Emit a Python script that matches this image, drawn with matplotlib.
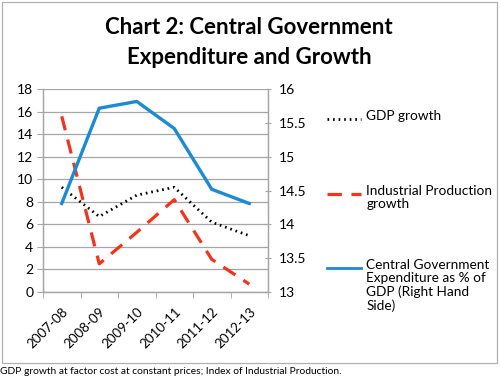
import matplotlib as mpl
mpl.use('agg')
import matplotlib.pyplot as plt
from matplotlib.lines import Line2D
from matplotlib.patches import Rectangle
from matplotlib.transforms import ScaledTranslation

years = ['2007-08', '2008-09', '2009-10', '2010-11', '2011-12', '2012-13']
gdp_growth = [9.3, 6.7, 8.6, 9.3, 6.2, 5.0]
iip_growth = [15.6, 2.5, 5.3, 8.2, 2.9, 0.7]
govt_exp = [14.31, 15.72, 15.82, 15.42, 14.52, 14.31]

FONT = 'Lato'
GRID = '#a6a6a6'
BLUE = '#1b8bd3'
RED = '#f5331a'

fig = plt.figure(figsize=(5.0, 3.78), dpi=100)
plt.rcParams['font.family'] = FONT

# outer frame
fig.add_artist(Rectangle((0.004, 0.04), 0.99, 0.955, transform=fig.transFigure,
                         fill=False, edgecolor='#b0b0b0', lw=0.9))

fig.text(0.498, 0.928, 'Chart 2: Central Government', ha='center', va='center',
         fontsize=16, fontweight='bold')
fig.text(0.498, 0.849, 'Expenditure and Growth', ha='center', va='center',
         fontsize=16, fontweight='bold')

ax = fig.add_axes([0.086, 0.2275, 0.45, 0.5363])
ax2 = ax.twinx()
x = list(range(len(years)))

ax.plot(x, gdp_growth, color='black', lw=2.0, ls=(0, (0.6, 1.4)), zorder=3)
ax.plot(x, iip_growth, color=RED, lw=2.3, ls=(0, (4.5, 3.0)), zorder=3)
ax2.plot(x, govt_exp, color=BLUE, lw=2.4, solid_joinstyle='miter')

ax.set_ylim(0, 18)
ax.set_yticks(range(0, 19, 2))
ax2.set_ylim(13, 16)
ax2.set_yticks([13, 13.5, 14, 14.5, 15, 15.5, 16])
ax2.set_yticklabels(['13', '13.5', '14', '14.5', '15', '15.5', '16'])
ax.set_xlim(-0.5, len(years) - 0.5)
ax.set_xticks(x)
ax.set_xticklabels(years, rotation=45, ha='right', rotation_mode='anchor')
shift = ScaledTranslation(4 / 72, 0, fig.dpi_scale_trans)
for lbl in ax.get_xticklabels():
    lbl.set_transform(lbl.get_transform() + shift)
ax.set_xticks([i - 0.5 for i in range(len(years) + 1)], minor=True)
ax.tick_params(axis='x', which='major', length=0, pad=10, labelsize=9.6)
ax.tick_params(axis='x', which='minor', length=4, color=GRID, direction='out')
ax.tick_params(axis='y', length=4, color=GRID, labelsize=10, pad=3)
ax2.tick_params(axis='y', length=5, color=GRID, direction='inout', labelsize=10, pad=5)

ax.grid(axis='y', color=GRID, lw=0.9)
ax.set_axisbelow(True)
for a in (ax, ax2):
    a.spines['top'].set_visible(False)
    for s in ('left', 'right', 'bottom'):
        a.spines[s].set_color(GRID)
        a.spines[s].set_linewidth(0.9)

# legend drawn by hand
legend_items = [
    (0.684, 'GDP growth', dict(color='black', lw=2.0, ls=(0, (0.6, 1.4)))),
    (0.487, 'Industrial Production\ngrowth', dict(color=RED, lw=2.3, ls=(0, (4.5, 3.0)))),
    (0.291, 'Central Government\nExpenditure as % of\nGDP (Right Hand\nSide)', dict(color=BLUE, lw=2.0)),
]
for y, label, style in legend_items:
    fig.add_artist(Line2D([0.654, 0.722], [y, y], transform=fig.transFigure, **style))
    fig.text(0.733, y + 0.024, label, ha='left', va='top', fontsize=9.8, linespacing=1.12)

fig.text(0.0, 0.018, 'GDP growth at factor cost at constant prices; Index of Industrial Production.',
         ha='left', va='center', fontsize=7.4)

fig.savefig('out.png', dpi=100)
